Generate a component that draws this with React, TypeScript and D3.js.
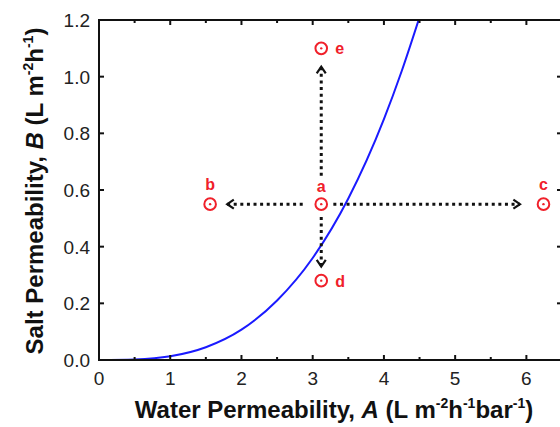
import * as d3 from "d3";

// tradeoff curve
const curveA = [0, 0.5, 1.0, 1.5, 2.0, 2.5, 3.0, 3.5, 4.0, 4.25, 4.5];
const curveB = [0, 0.002, 0.013, 0.045, 0.107, 0.21, 0.36, 0.57, 0.85, 1.02, 1.21];

// membrane points
const pointLabels = ["a", "b", "c", "d", "e"];
const pointA = [3.12, 1.56, 6.24, 3.12, 3.12];
const pointB = [0.55, 0.55, 0.55, 0.28, 1.1];

// dotted arrows, from a towards the others
const arrowFromA = [3.12, 2.86, 3.29, 3.12];
const arrowFromB = [0.65, 0.55, 0.55, 0.505];
const arrowToA = [3.12, 1.8, 5.91, 3.12];
const arrowToB = [1.035, 0.55, 0.55, 0.33];

const xTicks = [0, 1, 2, 3, 4, 5, 6];
const xMinorTicks = [0.5, 1.5, 2.5, 3.5, 4.5, 5.5, 6.5];
const yTicks = [0, 0.2, 0.4, 0.6, 0.8, 1.0, 1.2];

const width = 560;
const height = 427;
const left = 99;
const right = 562;
const top = 20;
const bottom = 360;

const font = "'Liberation Sans', Arial, sans-serif";
const red = "#f0202a";

export default function App() {
  const x = d3.scaleLinear().domain([0, 6.5]).range([left, right]);
  const y = d3.scaleLinear().domain([0, 1.2]).range([bottom, top]);

  const line = d3
    .line<number>()
    .x((d) => x(curveA[d]))
    .y((d) => y(curveB[d]))
    .curve(d3.curveMonotoneX);
  const curvePath = line(curveA.map((_, i) => i)) || "";

  const major = 5;
  const minor = 3;

  // open chevron head at the end of an arrow
  const head = (i: number) => {
    const x0 = x(arrowFromA[i]);
    const y0 = y(arrowFromB[i]);
    const x1 = x(arrowToA[i]);
    const y1 = y(arrowToB[i]);
    const ang = Math.atan2(y1 - y0, x1 - x0);
    const len = 8;
    const spread = 0.6;
    const p1 = [x1 - len * Math.cos(ang - spread), y1 - len * Math.sin(ang - spread)];
    const p2 = [x1 - len * Math.cos(ang + spread), y1 - len * Math.sin(ang + spread)];
    return `M${p1[0]},${p1[1]}L${x1},${y1}L${p2[0]},${p2[1]}`;
  };

  const labelOffset: Record<string, [number, number, string]> = {
    a: [0, -12, "middle"],
    b: [0, -14, "middle"],
    c: [0, -14, "middle"],
    d: [14, 6, "start"],
    e: [14, 6, "start"],
  };

  return (
    <svg
      width={width}
      height={height}
      style={{ position: "absolute", left: 0, top: 0, background: "#fff" }}
      fontFamily={font}
    >
      <defs>
        <clipPath id="plot">
          <rect x={left} y={top} width={right - left} height={bottom - top} />
        </clipPath>
      </defs>

      {/* curve */}
      <path d={curvePath} fill="none" stroke="#1a1aff" strokeWidth={2} clipPath="url(#plot)" />

      {/* dotted arrows */}
      {arrowFromA.map((_, i) => (
        <g key={"ar" + i} stroke="#111" fill="none">
          <line
            x1={x(arrowFromA[i])}
            y1={y(arrowFromB[i])}
            x2={x(arrowToA[i])}
            y2={y(arrowToB[i])}
            strokeWidth={3}
            strokeDasharray="3 3.6"
          />
          <path d={head(i)} strokeWidth={2.2} />
        </g>
      ))}

      {/* points */}
      {pointLabels.map((lab, i) => {
        const cx = x(pointA[i]);
        const cy = y(pointB[i]);
        const [dx, dy, anchor] = labelOffset[lab];
        return (
          <g key={lab}>
            <circle cx={cx} cy={cy} r={5.8} fill="none" stroke={red} strokeWidth={2} />
            <circle cx={cx} cy={cy} r={1.2} fill={red} />
            <text
              x={cx + dx}
              y={cy + dy}
              textAnchor={anchor}
              fill={red}
              fontWeight="bold"
              fontSize={16}
            >
              {lab}
            </text>
          </g>
        );
      })}

      {/* frame */}
      <rect x={left} y={top} width={right - left} height={bottom - top} fill="none" stroke="#111" strokeWidth={2} />

      {/* x ticks, bottom and top, inward */}
      {xTicks.map((t) => (
        <g key={"xt" + t} stroke="#111" strokeWidth={2}>
          <line x1={x(t)} x2={x(t)} y1={bottom} y2={bottom - major} />
          <line x1={x(t)} x2={x(t)} y1={top} y2={top + major} />
        </g>
      ))}
      {xMinorTicks.map((t) => (
        <g key={"xm" + t} stroke="#111" strokeWidth={2}>
          <line x1={x(t)} x2={x(t)} y1={bottom} y2={bottom - minor} />
          <line x1={x(t)} x2={x(t)} y1={top} y2={top + minor} />
        </g>
      ))}
      {yTicks.map((t) => (
        <g key={"yt" + t} stroke="#111" strokeWidth={2}>
          <line x1={left} x2={left + major} y1={y(t)} y2={y(t)} />
          <line x1={right} x2={right - major} y1={y(t)} y2={y(t)} />
        </g>
      ))}

      {/* tick labels */}
      {xTicks.map((t) => (
        <text key={"xl" + t} x={x(t)} y={bottom + 25} textAnchor="middle" fontSize={19} fill="#222">
          {t}
        </text>
      ))}
      {yTicks.map((t) => (
        <text key={"yl" + t} x={left - 9} y={y(t) + 7} textAnchor="end" fontSize={19} fill="#222">
          {d3.format(".1f")(t)}
        </text>
      ))}

      {/* axis titles */}
      <text x={334} y={418} textAnchor="middle" fontSize={24} fontWeight="bold" fill="#111">
        Water Permeability, <tspan fontStyle="italic">A</tspan> (L m
        <tspan dy={-10} fontSize={14}>-2</tspan>
        <tspan dy={10}>h</tspan>
        <tspan dy={-10} fontSize={14}>-1</tspan>
        <tspan dy={10}>bar</tspan>
        <tspan dy={-10} fontSize={14}>-1</tspan>
        <tspan dy={10}>)</tspan>
      </text>
      <text
        transform={`translate(43,${(top + bottom) / 2 + 1}) rotate(-90)`}
        textAnchor="middle"
        fontSize={24}
        fontWeight="bold"
        fill="#111"
      >
        Salt Permeability, <tspan fontStyle="italic">B</tspan> (L m
        <tspan dy={-10} fontSize={14}>-2</tspan>
        <tspan dy={10}>h</tspan>
        <tspan dy={-10} fontSize={14}>-1</tspan>
        <tspan dy={10}>)</tspan>
      </text>
    </svg>
  );
}
